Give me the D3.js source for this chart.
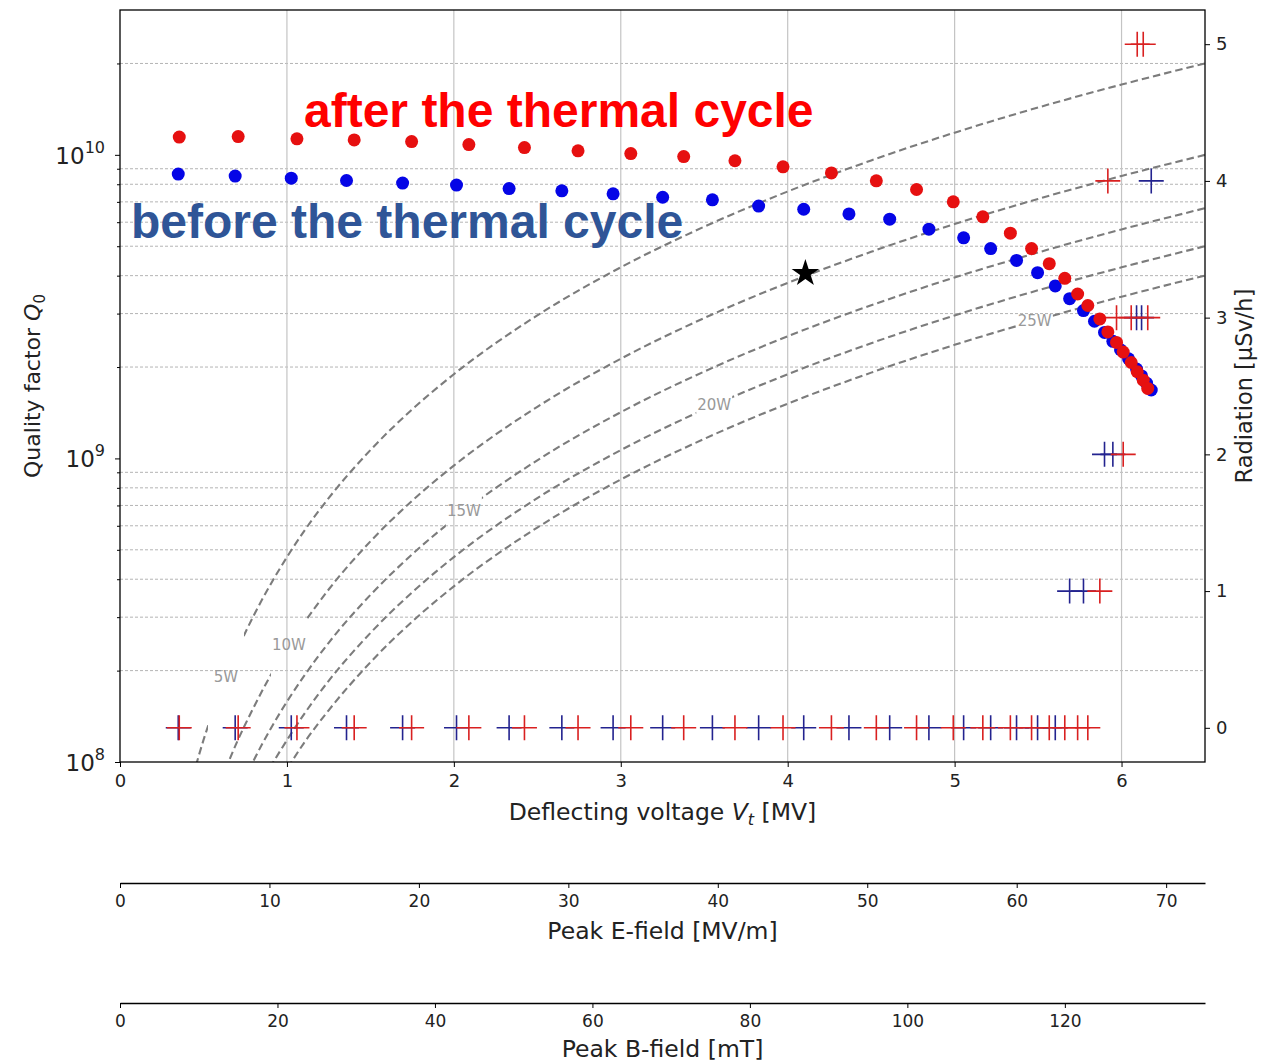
<!DOCTYPE html>
<html><head><meta charset="utf-8">
<script src="https://cdn.jsdelivr.net/npm/d3@7"></script>
<style>
html,body{margin:0;padding:0;background:#fff;}
svg text{font-family:"DejaVu Sans",sans-serif;}
svg text.big{font-family:"Liberation Sans",Arial,sans-serif;font-weight:bold;}
</style></head>
<body>
<svg id="c" width="1271" height="1064"></svg>
<script>
// ---------- data ----------
const xTicks = [0, 1, 2, 3, 4, 5, 6];
const qMajorTicks = [1e8, 1e9, 1e10];
const qMajorExp = ["8", "9", "10"];
const radTicks = [0, 1, 2, 3, 4, 5];
const eFieldTicks = [0, 10, 20, 30, 40, 50, 60, 70];
const bFieldTicks = [0, 20, 40, 60, 80, 100, 120];

// before the thermal cycle (blue)
const voltsBefore = [0.349, 0.690, 1.026, 1.357, 1.693, 2.016, 2.331, 2.647, 2.954, 3.251, 3.549, 3.826, 4.096, 4.367, 4.611, 4.846, 5.054, 5.216, 5.371, 5.497, 5.603, 5.689, 5.772, 5.838, 5.898, 5.948, 5.994, 6.042, 6.090, 6.120, 6.150, 6.178];
const q0Before = [8.64e9, 8.51e9, 8.38e9, 8.23e9, 8.07e9, 7.95e9, 7.74e9, 7.61e9, 7.44e9, 7.25e9, 7.11e9, 6.78e9, 6.62e9, 6.39e9, 6.14e9, 5.69e9, 5.33e9, 4.91e9, 4.49e9, 4.09e9, 3.70e9, 3.36e9, 3.07e9, 2.83e9, 2.60e9, 2.43e9, 2.28e9, 2.13e9, 1.97e9, 1.87e9, 1.77e9, 1.68e9];
const radBefore = [0,0,0,0,0,0,0,0,0,0,0,0,0,0,0,0,0,0,0,0,0, 1, 1, null, 2, 2, null, null, 3, 3, null, 4];

// after the thermal cycle (red)
const voltsAfter = [0.355, 0.708, 1.060, 1.403, 1.747, 2.090, 2.423, 2.744, 3.060, 3.377, 3.684, 3.972, 4.262, 4.531, 4.772, 4.992, 5.169, 5.334, 5.461, 5.567, 5.660, 5.737, 5.798, 5.870, 5.918, 5.970, 6.010, 6.058, 6.094, 6.130, 6.157];
const q0After = [1.144e10, 1.149e10, 1.129e10, 1.120e10, 1.106e10, 1.081e10, 1.057e10, 1.031e10, 1.010e10, 9.87e9, 9.56e9, 9.13e9, 8.72e9, 8.21e9, 7.69e9, 7.00e9, 6.25e9, 5.52e9, 4.91e9, 4.38e9, 3.92e9, 3.48e9, 3.19e9, 2.88e9, 2.61e9, 2.41e9, 2.24e9, 2.07e9, 1.93e9, 1.81e9, 1.70e9];
const radAfter = [0,0,0,0,0,0,0,0,0,0,0,0,0,0,0,0,0,0,0,0,0,0,0, 1, 4, 3, 2, 3, 5, 5, 3];

// design point (star)
const starV = [4.106];
const starQ = [4.07e9];

// iso-power dashed curves (Q0)
const curveV = [0.4, 0.5, 0.6, 0.7, 0.8, 0.9, 1.0, 1.1, 1.25, 1.5, 1.75, 2, 2.5, 3, 3.5, 4, 4.5, 5, 5.5, 6, 6.5];
const q5W  = [0.757e8, 1.18e8, 1.70e8, 2.32e8, 3.03e8, 3.83e8, 4.73e8, 5.73e8, 7.40e8, 10.65e8, 14.50e8, 18.94e8, 29.59e8, 42.61e8, 57.99e8, 75.74e8, 95.86e8, 118.35e8, 143.2e8, 170.4e8, 200.0e8];
const q10W = [0.379e8, 0.592e8, 0.852e8, 1.16e8, 1.51e8, 1.92e8, 2.37e8, 2.86e8, 3.70e8, 5.33e8, 7.25e8, 9.47e8, 14.79e8, 21.30e8, 29.0e8, 37.87e8, 47.93e8, 59.18e8, 71.6e8, 85.2e8, 100.0e8];
const q15W = [0.252e8, 0.395e8, 0.568e8, 0.773e8, 1.01e8, 1.28e8, 1.58e8, 1.91e8, 2.47e8, 3.55e8, 4.83e8, 6.31e8, 9.86e8, 14.20e8, 19.33e8, 25.25e8, 31.95e8, 39.45e8, 47.7e8, 56.8e8, 66.7e8];
const q20W = [0.189e8, 0.296e8, 0.426e8, 0.580e8, 0.757e8, 0.959e8, 1.18e8, 1.43e8, 1.85e8, 2.66e8, 3.62e8, 4.73e8, 7.40e8, 10.65e8, 14.50e8, 18.94e8, 23.96e8, 29.59e8, 35.8e8, 42.6e8, 50.0e8];
const q25W = [0.151e8, 0.237e8, 0.341e8, 0.464e8, 0.606e8, 0.767e8, 0.947e8, 1.15e8, 1.48e8, 2.13e8, 2.90e8, 3.79e8, 5.92e8, 8.52e8, 11.60e8, 15.15e8, 19.17e8, 23.67e8, 28.6e8, 34.1e8, 40.0e8];
const powerLabels = ["5W", "10W", "15W", "20W", "25W"];
const powerLabelV = [0.635, 1.012, 2.06, 3.56, 5.48];
const powerLabelQ = [1.91e8, 2.42e8, 6.7e8, 1.5e9, 2.84e9];

const vMax = 6.5, qMin = 1e8, qMax = 3e10, radMin = -0.25, radMax = 5.25;
const eFieldMax = 72.6, bFieldMax = 137.8;

// ---------- layout ----------
const L = 120, R = 1205, T = 10, B = 762;
const svg = d3.select("#c");
const x = d3.scaleLinear([0, vMax], [L, R]);
const y = d3.scaleLog([qMin, qMax], [B, T]);
const yR = d3.scaleLinear([radMin, radMax], [B, T]);

const defs = svg.append("defs");
defs.append("clipPath").attr("id", "plotclip")
  .append("rect").attr("x", L).attr("y", T).attr("width", R - L).attr("height", B - T);

// minor horizontal grid (dashed)
const minorQ = [];
[1e8, 1e9, 1e10].forEach(d => { for (let k = 2; k <= 9; k++) { const v = k * d; if (v < qMax) minorQ.push(v); } });
svg.append("g").selectAll("line").data(minorQ).join("line")
  .attr("x1", L).attr("x2", R).attr("y1", d => y(d)).attr("y2", d => y(d))
  .attr("stroke", "#b4b4b4").attr("stroke-width", 1).attr("stroke-dasharray", "3,2");

// vertical grid
svg.append("g").selectAll("line").data(xTicks.filter(d => d > 0)).join("line")
  .attr("x1", d => x(d)).attr("x2", d => x(d)).attr("y1", T).attr("y2", B)
  .attr("stroke", "#c4c4c4").attr("stroke-width", 1.2);

// iso-power curves with label gaps
const curves = [q5W, q10W, q15W, q20W, q25W];
const line = d3.line().x(d => x(d[0])).y(d => y(d[1])).curve(d3.curveMonotoneX);
const gap = 36;
curves.forEach((qs, i) => {
  const lx = x(powerLabelV[i]);
  const cp = defs.append("clipPath").attr("id", "cc" + i);
  cp.append("rect").attr("x", L).attr("y", T).attr("width", lx - gap / 2 - L).attr("height", B - T);
  cp.append("rect").attr("x", lx + gap / 2).attr("y", T).attr("width", R - lx - gap / 2).attr("height", B - T);
  svg.append("path").datum(curveV.map((v, j) => [v, qs[j]]))
    .attr("d", line).attr("fill", "none").attr("stroke", "#7c7c7c")
    .attr("stroke-width", 2.1).attr("stroke-dasharray", "7.5,4")
    .attr("clip-path", "url(#cc" + i + ")");
  svg.append("text").attr("x", lx).attr("y", y(powerLabelQ[i]))
    .attr("text-anchor", "middle").attr("dominant-baseline", "central")
    .attr("font-size", 15).attr("fill", "#999999").text(powerLabels[i]);
});

// radiation crosses
const crossPath = "M-12.5,0H12.5M0,-12.5V12.5";
function crosses(vs, rads, color) {
  const pts = vs.map((v, i) => [v, rads[i]]).filter(d => d[1] !== null);
  svg.append("g").attr("clip-path", "url(#plotclip)").selectAll("path").data(pts).join("path")
    .attr("d", crossPath).attr("transform", d => `translate(${x(d[0])},${yR(d[1])})`)
    .attr("stroke", color).attr("stroke-width", 1.6).attr("fill", "none");
}
crosses(voltsBefore, radBefore, "#23238f");
crosses(voltsAfter, radAfter, "#d92020");

// Q0 dots
function dots(vs, qs, color) {
  svg.append("g").selectAll("circle").data(vs.map((v, i) => [v, qs[i]])).join("circle")
    .attr("cx", d => x(d[0])).attr("cy", d => y(d[1])).attr("r", 6.5).attr("fill", color);
}
dots(voltsBefore, q0Before, "#0505e6");
dots(voltsAfter, q0After, "#e61010");

// star
svg.append("g").selectAll("path").data(starV.map((v, i) => [v, starQ[i]])).join("path")
  .attr("d", d3.symbol(d3.symbolStar, 235)())
  .attr("transform", d => `translate(${x(d[0])},${y(d[1])})`).attr("fill", "#000");

// frame
svg.append("rect").attr("x", L).attr("y", T).attr("width", R - L).attr("height", B - T)
  .attr("fill", "none").attr("stroke", "#000").attr("stroke-width", 1.3);

// bottom axis
const ax = svg.append("g").attr("transform", `translate(0,${B})`)
  .call(d3.axisBottom(x).tickValues(xTicks).tickSize(5).tickPadding(7).tickFormat(d3.format("d")));
ax.select(".domain").remove();
ax.selectAll("text").attr("font-size", 18).attr("fill", "#222");

// left axis: major + minor ticks
const ayMin = svg.append("g").attr("transform", `translate(${L},0)`)
  .call(d3.axisLeft(y).tickValues(minorQ).tickSize(3).tickFormat(""));
ayMin.select(".domain").remove();
const ay = svg.append("g").attr("transform", `translate(${L},0)`)
  .call(d3.axisLeft(y).tickValues(qMajorTicks).tickSize(5).tickFormat(""));
ay.select(".domain").remove();
svg.append("g").selectAll("text").data(qMajorTicks).join("text")
  .attr("x", 105).attr("y", d => y(d) + 9).attr("text-anchor", "end").attr("fill", "#222")
  .each(function (d, i) {
    const t = d3.select(this);
    t.append("tspan").attr("font-size", 23).text("10");
    t.append("tspan").attr("font-size", 16).attr("dy", -11).text(qMajorExp[i]);
  });

// right axis (radiation)
const ar = svg.append("g").attr("transform", `translate(${R},0)`)
  .call(d3.axisRight(yR).tickValues(radTicks).tickSize(5).tickPadding(6).tickFormat(d3.format("d")));
ar.select(".domain").remove();
ar.selectAll("text").attr("font-size", 18).attr("fill", "#222");

// axis titles
const xt = svg.append("text").attr("x", (L + R) / 2).attr("y", 820).attr("text-anchor", "middle")
  .attr("font-size", 23.5).attr("fill", "#222");
xt.append("tspan").text("Deflecting voltage ");
xt.append("tspan").attr("font-style", "italic").text("V");
xt.append("tspan").attr("font-size", 16).attr("dy", 5).attr("font-style", "italic").text("t");
xt.append("tspan").attr("dy", -5).text(" [MV]");

const yt = svg.append("text").attr("transform", `translate(40,${(T + B) / 2}) rotate(-90)`)
  .attr("text-anchor", "middle").attr("font-size", 22).attr("fill", "#222");
yt.append("tspan").text("Quality factor ");
yt.append("tspan").attr("font-style", "italic").text("Q");
yt.append("tspan").attr("font-size", 15).attr("dy", 5).text("0");

svg.append("text").attr("transform", `translate(1252,${(T + B) / 2}) rotate(-90)`)
  .attr("text-anchor", "middle").attr("font-size", 22.5).attr("fill", "#222")
  .text("Radiation [\u03BCSv/h]");

// secondary axes: peak E-field, peak B-field
function secAxis(yPos, max, ticks, title, titleY) {
  const s = d3.scaleLinear([0, max], [L, R]);
  const g = svg.append("g").attr("transform", `translate(0,${yPos})`)
    .call(d3.axisBottom(s).tickValues(ticks).tickSize(5).tickSizeOuter(0).tickPadding(7).tickFormat(d3.format("d")));
  g.select(".domain").attr("stroke-width", 1.5);
  g.selectAll("text").attr("font-size", 17).attr("fill", "#222");
  svg.append("text").attr("x", (L + R) / 2).attr("y", titleY).attr("text-anchor", "middle")
    .attr("font-size", 23.5).attr("fill", "#222").text(title);
}
secAxis(883, eFieldMax, eFieldTicks, "Peak E-field [MV/m]", 939);
secAxis(1003, bFieldMax, bFieldTicks, "Peak B-field [mT]", 1057);

// annotations
svg.append("text").attr("class", "big").attr("x", 304).attr("y", 127)
  .attr("font-size", 48).attr("fill", "#ff0000").text("after the thermal cycle");
svg.append("text").attr("class", "big").attr("x", 131).attr("y", 238)
  .attr("font-size", 48).attr("fill", "#2f5597").text("before the thermal cycle");
</script>
</body></html>
